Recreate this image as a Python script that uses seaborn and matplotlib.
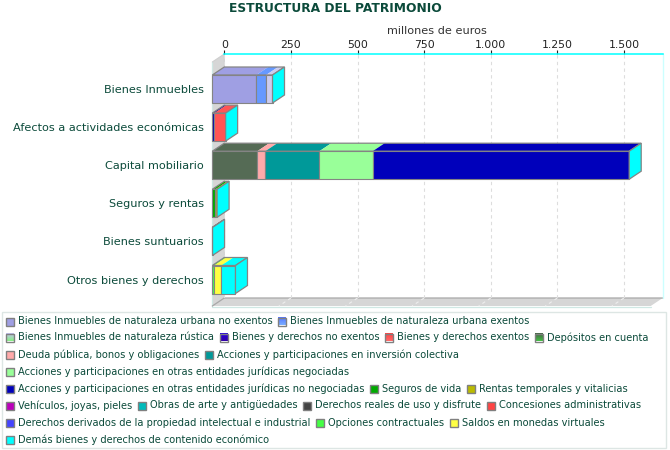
import numpy as np
import pandas as pd
import matplotlib
matplotlib.use("Agg")
import matplotlib.pyplot as plt
from matplotlib.patches import Polygon, Rectangle
from matplotlib.transforms import Affine2D
from matplotlib.colors import to_rgb
import seaborn as sns

TITLE = "ESTRUCTURA DEL PATRIMONIO"
UNIT = "millones de euros"
categories = ["Bienes Inmuebles", "Afectos a actividades económicas", "Capital mobiliario",
              "Seguros y rentas", "Bienes suntuarios", "Otros bienes y derechos"]
series_names = [
    "Bienes Inmuebles de naturaleza urbana no exentos",
    "Bienes Inmuebles de naturaleza urbana exentos",
    "Bienes Inmuebles de naturaleza rústica",
    "Bienes y derechos no exentos",
    "Bienes y derechos exentos",
    "Depósitos en cuenta",
    "Deuda pública, bonos y obligaciones",
    "Acciones y participaciones en inversión colectiva",
    "Acciones y participaciones en otras entidades jurídicas negociadas",
    "Acciones y participaciones en otras entidades jurídicas no negociadas",
    "Seguros de vida",
    "Rentas temporales y vitalicias",
    "Vehículos, joyas, pieles",
    "Obras de arte y antigüedades",
    "Derechos reales de uso y disfrute",
    "Concesiones administrativas",
    "Derechos derivados de la propiedad intelectual e industrial",
    "Opciones contractuales",
    "Saldos en monedas virtuales",
    "Demás bienes y derechos de contenido económico",
]
series_colors = ["#9F9FE3", "#6699FF", "#CCCCEE", "#0000AA", "#FF5555", "#556B55", "#FFAAAA",
                 "#009999", "#99FF99", "#0000BB", "#00AA00", "#BBBB00", "#BB00BB", "#00BBBB",
                 "#444444", "#FF4444", "#4444FF", "#44FF44", "#FFFF44", "#00FFFF"]
# values per series, one per category
values = {
    0: [165, 0, 0, 0, 0, 0],
    1: [37, 0, 0, 0, 0, 0],
    2: [24, 0, 0, 0, 0, 0],
    3: [0, 8, 0, 0, 0, 0],
    4: [0, 42, 0, 0, 0, 0],
    5: [0, 0, 169, 0, 0, 0],
    6: [0, 0, 30, 0, 0, 0],
    7: [0, 0, 203, 0, 0, 0],
    8: [0, 0, 200, 0, 0, 0],
    9: [0, 0, 963, 0, 0, 0],
    10: [0, 0, 0, 12, 0, 0],
    11: [0, 0, 0, 6, 0, 0],
    12: [0, 0, 0, 0, 1, 0],
    13: [0, 0, 0, 0, 0, 0],
    14: [0, 0, 0, 0, 0, 0],
    15: [0, 0, 0, 0, 0, 0],
    16: [0, 0, 0, 0, 0, 0],
    17: [0, 0, 0, 0, 0, 7],
    18: [0, 0, 0, 0, 0, 27],
    19: [0, 0, 0, 0, 0, 53],
}
tick_values = [0, 250, 500, 750, 1000, 1250, 1500]
tick_labels = ["0", "250", "500", "750", "1.000", "1.250", "1.500"]
legend_rows = [[0, 1], [2, 3, 4, 5], [6, 7], [8], [9, 10, 11], [12, 13, 14, 15], [16, 17, 18], [19]]
legend_row_y = [321.5, 337.5, 354.5, 371.5, 388.5, 405.5, 422.5, 439.5]
swatch_gradients = {2: ("#C4C4F0", "#88EE88"), 5: ("#446644", "#44BB44"), 1: ("#5577FF", "#77AAFF"),
                    3: ("#2200DD", "#3300AA"), 4: ("#FF4444", "#FF6666")}

W, H = 670, 450
DX, DY = 12, 8
PL, PR, PT, PB = 224.3, 662.7, 54.0, 298.0
PX_PER_UNIT = 0.2664
ROW0, ROW_STEP = 81.0, 38.1
BAR_H = 28.0
INK = "#0B4A3A"
EDGE = "#848484"

sns.set_theme(style="white")
plt.rcParams["font.family"] = ["DejaVu Sans"]
fig = plt.figure(figsize=(W / 100, H / 100), dpi=100, facecolor="white")

# pixel-space canvas for walls and legend
bg = fig.add_axes([0, 0, 1, 1], zorder=0)
bg.set_xlim(0, W); bg.set_ylim(H, 0); bg.axis("off")
bg.add_patch(Polygon([(PL, PT), (PL, PB), (PL - DX, PB + DY), (PL - DX, PT + DY)],
                     fc="#D6D6D6", ec="none"))
bg.add_patch(Polygon([(PL - DX, PB + DY), (PL, PB), (PR, PB), (PR - DX, PB + DY)],
                     fc="#D6D6D6", ec="none"))
bg.plot([PL - DX, PL - DX], [PT + DY, PB + DY], color="#CFE8E4", lw=0.9)
bg.plot([PL - DX, PR - DX], [PB + DY + 0.7] * 2, color="#CFE8E4", lw=0.9)
bg.plot([PL - DX, PL, PL], [PT + DY, PT, PB], color="#CFCFCF", lw=0.8)
bg.plot([PL - DX, PL, PR], [PB + DY, PB, PB], color="#A8A8A8", lw=0.9)
bg.plot([PR, PR], [PT, PB], color="#CCFFFF", lw=1.0)

ax = fig.add_axes([PL / W, (H - PB) / H, (PR - PL) / W, (PB - PT) / H], zorder=1)
ax.patch.set_visible(False)

df = pd.DataFrame({"categoria": categories})
cum = np.zeros(len(categories))
shift = Affine2D().translate(-DX, -DY)
for i, name in enumerate(series_names):
    vals = np.array(values[i], dtype=float)
    d = df.assign(valor=vals)
    before = len(ax.patches)
    sns.barplot(data=d, y="categoria", x="valor", order=categories, orient="y", left=cum,
                color=series_colors[i], saturation=1, width=BAR_H / ROW_STEP, errorbar=None,
                edgecolor=EDGE, linewidth=0.8, ax=ax, zorder=3)
    for p in list(ax.patches[before:]):
        if p.get_width() == 0:
            p.set_visible(False)
    cum = cum + vals

ax.set_xlim(0, (PR - PL) / PX_PER_UNIT)
ax.set_ylim(5 + (PB - (ROW0 + 5 * ROW_STEP)) / ROW_STEP, -(ROW0 - PT) / ROW_STEP)

# pseudo-3D faces derived from the drawn bars
front = ax.transData + shift
to_px = lambda v: PL + v * PX_PER_UNIT


def top_face(x0, x1, ytop):
    a = ax.transData.transform([(x0, ytop), (x1, ytop)])
    return np.array([[a[0, 0] - DX, a[0, 1] - DY], [a[1, 0] - DX, a[1, 1] - DY],
                     [a[1, 0], a[1, 1]], [a[0, 0], a[0, 1]]])


for p in ax.patches:
    if not p.get_visible():
        continue
    x0, y0, w, h = p.get_x(), p.get_y(), p.get_width(), p.get_height()
    ax.add_patch(Polygon(top_face(x0, x0 + w, y0), closed=True, transform=None,
                         fc=p.get_facecolor(), ec="none", zorder=2, clip_on=False))
for p in ax.patches:
    if isinstance(p, Rectangle):
        p.set_transform(front)
        p.set_clip_on(False)

half = BAR_H / ROW_STEP / 2
for r, total in enumerate(cum):
    ax.add_patch(Polygon(top_face(0, total, r - half), closed=True, transform=None,
                         fc="none", ec=EDGE, lw=0.9, zorder=2.5, clip_on=False))
    t = top_face(total, total, r - half)[1:3]
    bot = ax.transData.transform((total, r + half))
    side = np.array([t[0], t[1], [bot[0], bot[1]], [bot[0] - DX, bot[1] - DY]])
    ax.add_patch(Polygon(side, closed=True, transform=None, fc=series_colors[-1],
                         ec=EDGE, lw=0.9, zorder=4, clip_on=False))

# axis decoration
sns.despine(ax=ax, left=True, bottom=True, right=True, top=False)
ax.spines["top"].set_color("#00FFFF")
ax.spines["top"].set_linewidth(1.1)
ax.xaxis.tick_top()
ax.set_xlabel(""); ax.set_ylabel("")
ax.set_xticks(tick_values, tick_labels)
ax.tick_params(axis="x", length=2.9, width=0.8, color="#222222", pad=0.2, labelsize=7.8,
               labelcolor="#222222")
ax.grid(True, axis="x", linestyle=(0, (3, 3)), color="#DDDDDD", linewidth=0.8)
ax.grid(False, axis="y")
ax.set_axisbelow(True)
for v in tick_values[1:]:
    bg.plot([to_px(v), to_px(v) - DX], [PB, PB + DY], color="#EEEEEE", lw=0.8, ls=(0, (3, 3)))

ax.set_yticks(range(len(categories)), categories)
ax.tick_params(axis="y", length=0, pad=14.8, labelsize=8.15, labelcolor=INK)
for lab in ax.get_yticklabels():
    lab.set_transform(lab.get_transform() + Affine2D().translate(0, -DY))

fig.text(335 / W, 1 - 8.5 / H, TITLE, ha="center", va="center", fontsize=8.85,
         fontweight="bold", color=INK)
fig.text(436.5 / W, 1 - 31 / H, UNIT, ha="center", va="center", fontsize=8.1, color="#333333")

# legend box, laid out as a flowing list
bg.add_patch(Rectangle((1.5, 311.5), 664, 136, fc="white", ec="#DDE6E4", lw=1.0))
renderer = fig.canvas.get_renderer()
for row, yy in zip(legend_rows, legend_row_y):
    x = 5.5
    for idx in row:
        if idx in swatch_gradients:
            c0, c1 = map(to_rgb, swatch_gradients[idx])
            grad = np.linspace(c0, c1, 8).reshape(8, 1, 3)
            bg.imshow(grad, extent=(x, x + 8, yy + 4, yy - 4), aspect="auto", zorder=2,
                      interpolation="nearest")
            bg.add_patch(Rectangle((x, yy - 4), 8, 8, fc="none", ec="#808080", lw=1.0, zorder=3))
        else:
            bg.add_patch(Rectangle((x, yy - 4), 8, 8, fc=series_colors[idx], ec="#808080",
                                   lw=1.0, zorder=3))
        t = bg.text(x + 12, yy, series_names[idx], ha="left", va="center", fontsize=7.15,
                    color=INK)
        x = t.get_window_extent(renderer).x1 + 6
bg.set_xlim(0, W); bg.set_ylim(H, 0)

fig.savefig("out.png", dpi=100)
